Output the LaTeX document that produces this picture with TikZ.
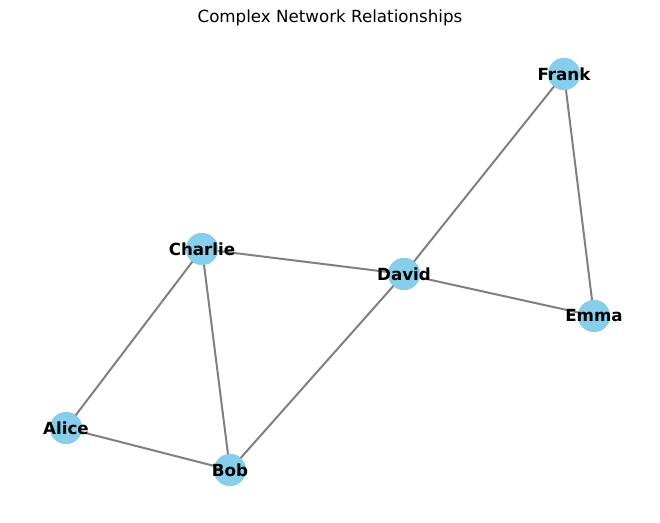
\documentclass[tikz,border=0pt]{standalone}
\usepackage{fontspec}
\setmainfont{DejaVu Sans}
\begin{document}
\begin{tikzpicture}[x=1pt,y=-1pt,
  vertex/.style={circle,fill={rgb,255:red,135;green,206;blue,235},draw=none,minimum size=32pt,inner sep=0pt},
  lbl/.style={font=\fontsize{16.7}{20}\selectfont\bfseries,text=black},
  edge/.style={draw={rgb,255:red,128;green,128;blue,128},line width=2pt}]
\useasboundingbox (0,0) rectangle (660,522);
\node[font=\fontsize{16.7}{20}\selectfont] (title) at (330,18) {Complex Network Relationships};
\node[vertex] (Frank) at (564,74) {};
\node[vertex] (Charlie) at (202,249) {};
\node[vertex] (David) at (404,274) {};
\node[vertex] (Emma) at (594,316) {};
\node[vertex] (Alice) at (66,428) {};
\node[vertex] (Bob) at (230,470) {};
\path[edge] (Frank.center) -- (David.center);
\path[edge] (Frank.center) -- (Emma.center);
\path[edge] (Charlie.center) -- (David.center);
\path[edge] (David.center) -- (Emma.center);
\path[edge] (Charlie.center) -- (Alice.center);
\path[edge] (Charlie.center) -- (Bob.center);
\path[edge] (Alice.center) -- (Bob.center);
\path[edge] (Bob.center) -- (David.center);
\foreach \n in {Frank,Charlie,David,Emma,Alice,Bob}{
  \node[vertex] at (\n) {};
  \node[lbl] (\n-label) at (\n) {\n};
}
\end{tikzpicture}
\end{document}
